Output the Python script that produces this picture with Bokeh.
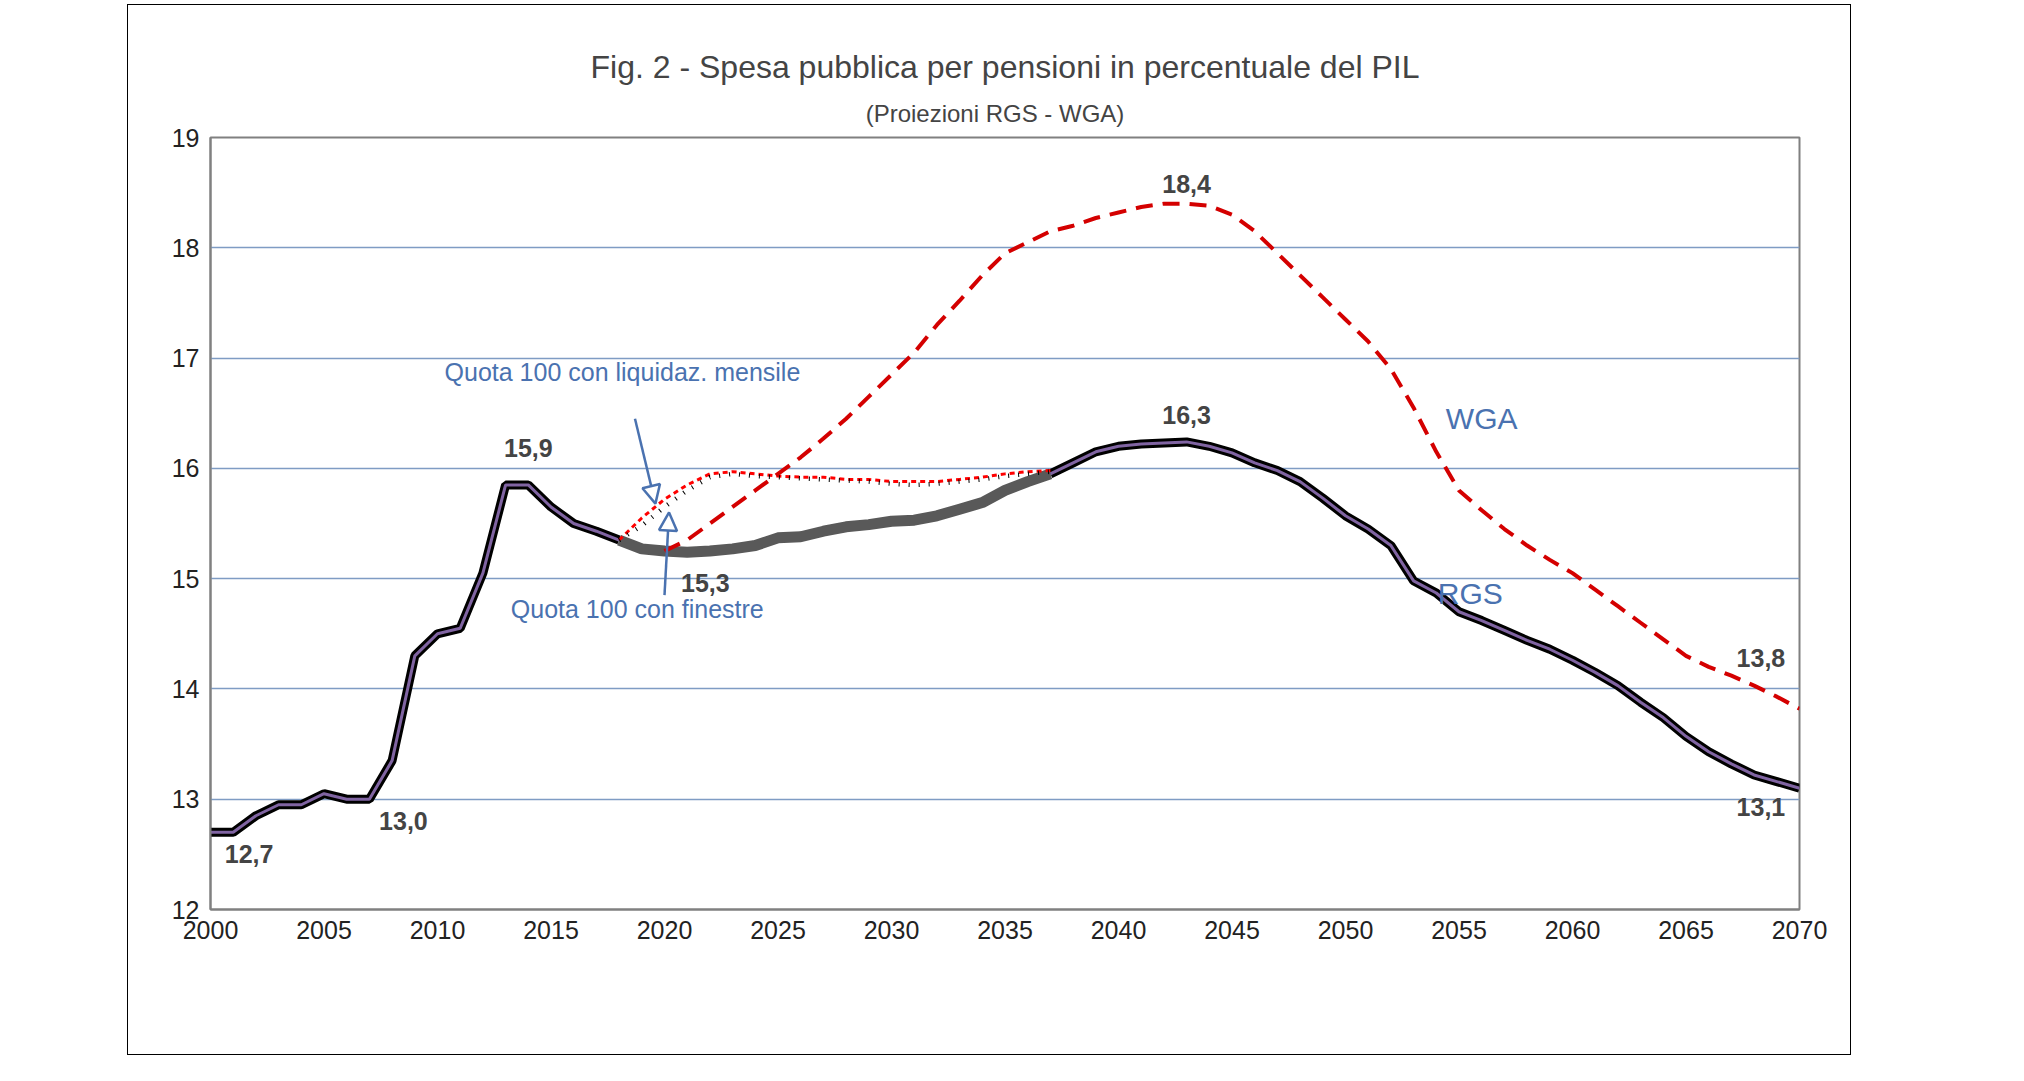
from bokeh.plotting import figure
from bokeh.models import Title, Label, Arrow, NormalHead, FixedTicker
from bokeh.embed import file_html
from bokeh.resources import INLINE

FONT = "Liberation Sans"

years_hist = list(range(2000, 2019))
hist = [12.7, 12.7, 12.85, 12.95, 12.95, 13.05, 13.0, 13.0, 13.35, 14.3, 14.5,
        14.55, 15.05, 15.85, 15.85, 15.65, 15.5, 15.43, 15.35]

years_rgs = list(range(2018, 2071))
rgs = [15.35, 15.27, 15.25, 15.24, 15.25, 15.27, 15.3, 15.37, 15.38, 15.43, 15.47,
       15.49, 15.52, 15.53, 15.57, 15.63, 15.69, 15.8, 15.88, 15.95, 16.05, 16.15,
       16.2, 16.22, 16.23, 16.24, 16.2, 16.14, 16.05, 15.98, 15.88, 15.73, 15.57,
       15.45, 15.3, 14.98, 14.87, 14.7, 14.62, 14.53, 14.44, 14.36, 14.26, 14.15,
       14.03, 13.88, 13.74, 13.57, 13.43, 13.32, 13.22, 13.16, 13.1]

years_q = list(range(2018, 2038))
q_mensile = [15.35, 15.55, 15.72, 15.85, 15.95, 15.97, 15.95, 15.93, 15.92, 15.92,
             15.9, 15.9, 15.88, 15.88, 15.88, 15.9, 15.92, 15.95, 15.97, 15.98]
q_finestre = [15.35, 15.48, 15.65, 15.8, 15.92, 15.95, 15.93, 15.92, 15.91, 15.9,
              15.89, 15.88, 15.86, 15.85, 15.86, 15.88, 15.9, 15.93, 15.95, 15.97]

years_wga = list(range(2020, 2071))
wga = [15.25, 15.35, 15.5, 15.65, 15.8, 15.95, 16.1, 16.27, 16.45, 16.65, 16.85,
       17.05, 17.3, 17.52, 17.75, 17.95, 18.05, 18.15, 18.2, 18.27, 18.32, 18.37,
       18.4, 18.4, 18.38, 18.3, 18.15, 17.95, 17.75, 17.55, 17.35, 17.15, 16.9,
       16.55, 16.15, 15.8, 15.62, 15.45, 15.3, 15.17, 15.05, 14.9, 14.75, 14.6,
       14.45, 14.3, 14.2, 14.12, 14.03, 13.93, 13.82]

value_labels = ["12,7", "13,0", "15,9", "15,3", "18,4", "16,3", "13,8", "13,1"]
value_x = [2001.7, 2008.5, 2014.0, 2021.8, 2043.0, 2043.0, 2068.3, 2068.3]
value_y = [12.42, 12.72, 16.1, 14.88, 18.5, 16.4, 14.2, 12.85]

p = figure(width=1724, height=1051, x_range=(2000, 2070), y_range=(12, 19),
           output_backend="svg", toolbar_location=None,
           min_border_left=82, min_border_right=53, min_border_top=20,
           min_border_bottom=147,
           styles={"border": "1px solid black", "margin-left": "127px",
                   "margin-top": "4px"})
p.add_layout(Title(text="(Proiezioni  RGS -   WGA)", align="center",
                   text_font=FONT, text_font_size="24px", text_font_style="normal",
                   standoff=22), "above")
p.add_layout(Title(text="Fig. 2 - Spesa pubblica per pensioni in percentuale del PIL",
                   align="center", text_font=FONT, text_font_size="32px",
                   text_font_style="normal", standoff=4), "above")
p.add_layout(Title(text=" ", text_font_size="24px"), "above")

p.outline_line_color = "#808080"
p.outline_line_width = 2
p.xgrid.grid_line_color = None
p.ygrid.grid_line_color = "#7f9cc4"
p.ygrid.grid_line_width = 1.3
p.xaxis.ticker = FixedTicker(ticks=list(range(2000, 2071, 5)))
p.yaxis.ticker = FixedTicker(ticks=list(range(12, 20)))
for ax in (p.xaxis, p.yaxis):
    ax.axis_line_color = "#808080"
    ax.axis_line_width = 2
    ax.major_tick_line_color = None
    ax.minor_tick_line_color = None
    ax.major_label_text_font = FONT
    ax.major_label_text_font_size = "25px"
    ax.major_label_text_color = "#222222"

# RGS storico
p.line(years_hist, hist, line_color="black", line_width=9)
p.line(years_hist, hist, line_color="#8064a2", line_width=3)
# RGS proiezione (Quota 100 con finestre)
n = years_rgs.index(2037)
p.line(years_rgs[:n + 1], rgs[:n + 1], line_color="#595959", line_width=11)
p.line(years_rgs[n:], rgs[n:], line_color="black", line_width=9)
p.line(years_rgs[n:], rgs[n:], line_color="#8064a2", line_width=3)
# varianti Quota 100
p.line(years_q, q_mensile, line_color="red", line_width=3, line_dash="5 4")
p.line(years_q, q_finestre, line_color="black", line_width=4.5, line_dash="1 9")
# WGA
p.line(years_wga, wga, line_color="#d40000", line_width=4, line_dash="17 10")

for t, x, y in zip(value_labels, value_x, value_y):
    p.add_layout(Label(x=x, y=y, text=t, text_font=FONT, text_font_size="25px",
                       text_font_style="bold", text_align="center"))

blue = "#4a72b0"
for t, x, y, size in [("WGA", 2056.0, 16.3, "30px"), ("RGS", 2055.5, 14.72, "30px"),
                      ("Quota 100 con  liquidaz. mensile", 2018.3, 16.75, "25px"),
                      ("Quota 100 con finestre", 2018.8, 14.6, "25px")]:
    p.add_layout(Label(x=x, y=y, text=t, text_font=FONT, text_font_size=size,
                       text_color=blue, text_align="center"))

for xs, ys, xe, ye in [(2018.7, 16.45, 2019.6, 15.68), (2020.0, 14.85, 2020.2, 15.6)]:
    p.add_layout(Arrow(x_start=xs, y_start=ys, x_end=xe, y_end=ye,
                       line_color=blue, line_width=2.5,
                       end=NormalHead(size=18, fill_color=None, line_color=blue,
                                      line_width=2.5)))

open("out.html", "w").write(file_html(p, INLINE))
